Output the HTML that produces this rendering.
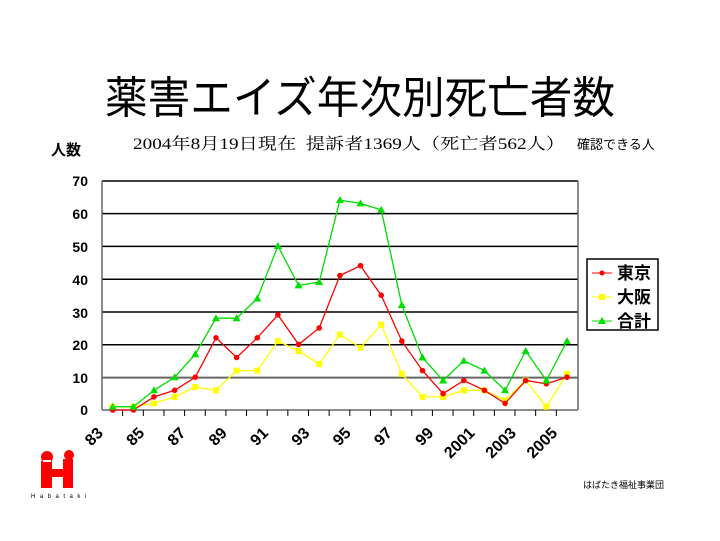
<!DOCTYPE html>
<html><head><meta charset="utf-8"><style>
html,body{margin:0;padding:0;background:#fff;}
svg{display:block;}
</style></head><body>
<svg width="720" height="541" xmlns="http://www.w3.org/2000/svg" font-family="Liberation Sans, Noto Sans CJK JP, sans-serif">
<defs>
<marker id="mr" markerUnits="userSpaceOnUse" markerWidth="8" markerHeight="8" refX="4" refY="4"><circle cx="4" cy="4" r="2.8" fill="#f00"/></marker>
<marker id="my" markerUnits="userSpaceOnUse" markerWidth="8" markerHeight="8" refX="4" refY="4"><rect x="1" y="1" width="6" height="6" fill="#ff0"/></marker>
<marker id="mg" markerUnits="userSpaceOnUse" markerWidth="10" markerHeight="10" refX="5" refY="5"><polygon points="5,1 9,8 1,8" fill="#0d0"/></marker>
</defs>
<rect width="720" height="541" fill="#fff"/>
<text x="360" y="113" font-size="44" text-anchor="middle" font-family="Noto Sans CJK JP, sans-serif" textLength="510" lengthAdjust="spacingAndGlyphs">薬害エイズ年次別死亡者数</text>
<text x="51" y="155" font-size="15" font-weight="bold" font-family="Noto Sans CJK JP, sans-serif">人数</text>
<text x="133" y="149" font-size="16" font-family="Liberation Serif, Noto Serif CJK SC, serif" textLength="432" lengthAdjust="spacingAndGlyphs">2004年8月19日現在 &#160;提訴者1369人（死亡者562人）</text>
<text x="577" y="149" font-size="13" font-family="Noto Sans CJK JP, sans-serif">確認できる人</text>
<g stroke="#000" stroke-width="1.5">
<line x1="102" y1="181" x2="578" y2="181"/>
<line x1="102" y1="213.6" x2="578" y2="213.6"/>
<line x1="102" y1="246.4" x2="578" y2="246.4"/>
<line x1="102" y1="279.2" x2="578" y2="279.2"/>
<line x1="102" y1="312" x2="578" y2="312"/>
<line x1="102" y1="344.8" x2="578" y2="344.8"/>
<line x1="102" y1="377.6" x2="578" y2="377.6" stroke="#666" stroke-width="2"/>
<line x1="102" y1="410" x2="578" y2="410" stroke="#666"/>
<line x1="102" y1="181" x2="102" y2="410" stroke="#666"/>
<line x1="578" y1="181" x2="578" y2="410" stroke="#666"/>
</g>
<path stroke="#000" stroke-width="1" d="M122.65 410v6M143.3 410v6M163.95 410v6M184.6 410v6M205.25 410v6M225.9 410v6M246.55 410v6M267.2 410v6M287.85 410v6M308.5 410v6M329.15 410v6M349.8 410v6M370.45 410v6M391.1 410v6M411.75 410v6M432.4 410v6M453.05 410v6M473.7 410v6M494.35 410v6M515 410v6M535.65 410v6M556.3 410v6"/>
<g font-size="14" font-weight="bold" text-anchor="end">
<text x="88" y="186">70</text><text x="88" y="219">60</text><text x="88" y="252">50</text><text x="88" y="285">40</text><text x="88" y="318">30</text><text x="88" y="350">20</text><text x="88" y="383">10</text><text x="88" y="415">0</text>
</g>
<g font-size="16" font-weight="bold" text-anchor="end">
<text x="104" y="434" transform="rotate(-45 104 434)">83</text>
<text x="145.3" y="434" transform="rotate(-45 145.3 434)">85</text>
<text x="186.6" y="434" transform="rotate(-45 186.6 434)">87</text>
<text x="227.9" y="434" transform="rotate(-45 227.9 434)">89</text>
<text x="269.2" y="434" transform="rotate(-45 269.2 434)">91</text>
<text x="310.5" y="434" transform="rotate(-45 310.5 434)">93</text>
<text x="351.8" y="434" transform="rotate(-45 351.8 434)">95</text>
<text x="393.1" y="434" transform="rotate(-45 393.1 434)">97</text>
<text x="434.4" y="434" transform="rotate(-45 434.4 434)">99</text>
<text x="475.7" y="434" transform="rotate(-45 475.7 434)">2001</text>
<text x="517" y="434" transform="rotate(-45 517 434)">2003</text>
<text x="558.3" y="434" transform="rotate(-45 558.3 434)">2005</text>
</g>
<polyline fill="none" stroke="#ff0" stroke-width="1.3" marker-start="url(#my)" marker-mid="url(#my)" marker-end="url(#my)" points="112.7,406.7 133.4,406.7 154,403.4 174.7,396.9 195.3,387 216,390.3 236.6,370.6 257.3,370.6 277.9,341.1 298.6,351 319.2,364.1 339.9,334.6 360.5,347.7 381.2,324.7 401.8,373.9 422.5,396.9 443.1,396.9 463.8,390.3 484.4,390.3 505.1,400.2 525.7,380.5 546.4,406.7 567,373.9"/>
<polyline fill="none" stroke="#f00" stroke-width="1.3" marker-start="url(#mr)" marker-mid="url(#mr)" marker-end="url(#mr)" points="112.7,410 133.4,410 154,396.9 174.7,390.3 195.3,377.2 216,337.8 236.6,357.5 257.3,337.8 277.9,314.9 298.6,344.4 319.2,328 339.9,275.5 360.5,265.7 381.2,295.2 401.8,341.1 422.5,370.6 443.1,393.6 463.8,380.5 484.4,390.3 505.1,403.4 525.7,380.5 546.4,383.8 567,377.2"/>
<polyline fill="none" stroke="#0d0" stroke-width="1.3" marker-start="url(#mg)" marker-mid="url(#mg)" marker-end="url(#mg)" points="112.7,406.7 133.4,406.7 154,390.3 174.7,377.2 195.3,354.2 216,318.2 236.6,318.2 257.3,298.5 277.9,246 298.6,285.4 319.2,282.1 339.9,200.1 360.5,203.4 381.2,209.9 401.8,305 422.5,357.5 443.1,380.5 463.8,360.8 484.4,370.6 505.1,390.3 525.7,351 546.4,380.5 567,341.1"/>
<rect x="587" y="259" width="71" height="71" fill="#fff" stroke="#000" stroke-width="1.5"/>
<g font-size="17" font-weight="bold" font-family="Noto Sans CJK JP, sans-serif">
<line x1="592" y1="273" x2="612" y2="273" stroke="#f00"/><circle cx="602" cy="273" r="2.5" fill="#f00"/><text x="617" y="279">東京</text>
<line x1="592" y1="297" x2="612" y2="297" stroke="#ff0"/><rect x="599" y="294" width="6" height="6" fill="#ff0"/><text x="617" y="303">大阪</text>
<line x1="592" y1="321" x2="612" y2="321" stroke="#0d0"/><polygon points="602,317 606,324 598,324" fill="#0d0"/><text x="617" y="327">合計</text>
</g>
<circle cx="47" cy="457" r="6" fill="#f00"/>
<circle cx="69" cy="455" r="5" fill="#f00"/>
<rect x="41" y="461" width="11" height="27" fill="#f00"/>
<rect x="63" y="459" width="10" height="29" fill="#f00"/>
<rect x="50" y="469" width="15" height="8" fill="#f00"/>
<rect x="43" y="460" width="8" height="2" fill="#fff"/>
<text x="31" y="498" font-size="6" letter-spacing="4.5">Habataki</text>
<text x="583" y="488" font-size="9" font-family="Noto Sans CJK JP, sans-serif">はばたき福祉事業団</text>
</svg>
</body></html>
